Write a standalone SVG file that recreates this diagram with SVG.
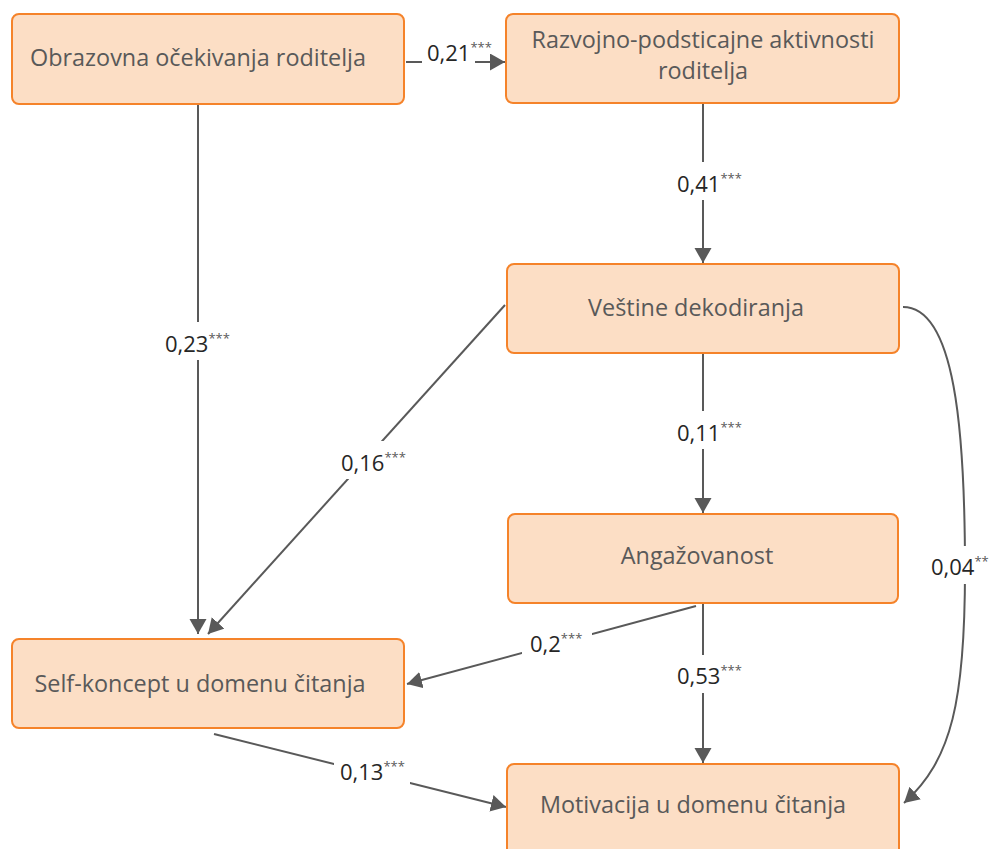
<svg xmlns="http://www.w3.org/2000/svg" width="996" height="849" viewBox="0 0 996 849">
<defs>
<marker id="ah" markerUnits="userSpaceOnUse" markerWidth="16" markerHeight="18" refX="15" refY="8.5" orient="auto">
<path d="M0,0 L15,8.5 L0,17 z" fill="#595959"/>
</marker>
<style>
.box{fill:#FCDEC5;stroke:#F5832A;stroke-width:2}
.nt{font-family:"Open Sans","Liberation Sans",sans-serif;font-size:23.4px;fill:#595959;text-anchor:middle}
.lb{font-family:"Open Sans","Liberation Sans",sans-serif;font-size:22px;fill:#262626}
.sup{font-size:13px;fill:#595959}
.ln{stroke:#595959;stroke-width:2;fill:none}
.bg{fill:#ffffff}
</style>
</defs>
<rect width="996" height="849" fill="#ffffff"/>
<g id="connectors">
<line class="ln" x1="406" y1="62" x2="505" y2="62" marker-end="url(#ah)"/>
<line class="ln" x1="198" y1="104" x2="198" y2="634" marker-end="url(#ah)"/>
<line class="ln" x1="703" y1="104" x2="703" y2="263" marker-end="url(#ah)"/>
<line class="ln" x1="505" y1="305" x2="208" y2="634" marker-end="url(#ah)"/>
<line class="ln" x1="703" y1="353" x2="703" y2="513" marker-end="url(#ah)"/>
<path class="ln" d="M903,307 C955,307 965,430 965,570 C965,700 952,760 904,803" marker-end="url(#ah)"/>
<line class="ln" x1="696" y1="606" x2="407" y2="684" marker-end="url(#ah)"/>
<line class="ln" x1="703" y1="603" x2="703" y2="763" marker-end="url(#ah)"/>
<line class="ln" x1="214" y1="734" x2="506" y2="807" marker-end="url(#ah)"/>
<rect class="bg" x="422" y="40" width="53" height="30"/>
<rect class="bg" x="160" y="322" width="76" height="38"/>
<rect class="bg" x="670" y="162" width="76" height="38"/>
<rect class="bg" x="335" y="441" width="76" height="38"/>
<rect class="bg" x="670" y="411" width="76" height="38"/>
<rect class="bg" x="926" y="546" width="68" height="38"/>
<rect class="bg" x="522" y="623" width="70" height="38"/>
<rect class="bg" x="670" y="655" width="76" height="38"/>
<rect class="bg" x="334" y="751" width="76" height="38"/>
<text class="lb" x="427" y="61">0,21<tspan class="sup" dy="-9">***</tspan></text>
<text class="lb" x="165" y="352">0,23<tspan class="sup" dy="-9">***</tspan></text>
<text class="lb" x="677" y="192">0,41<tspan class="sup" dy="-9">***</tspan></text>
<text class="lb" x="341" y="471">0,16<tspan class="sup" dy="-9">***</tspan></text>
<text class="lb" x="677" y="441">0,11<tspan class="sup" dy="-9">***</tspan></text>
<text class="lb" x="931" y="575">0,04<tspan class="sup" dy="-9">**</tspan></text>
<text class="lb" x="530" y="652">0,2<tspan class="sup" dy="-9">***</tspan></text>
<text class="lb" x="677" y="684">0,53<tspan class="sup" dy="-9">***</tspan></text>
<text class="lb" x="340" y="780">0,13<tspan class="sup" dy="-9">***</tspan></text>
</g>
<g id="n1"><rect class="box" x="12" y="14" width="392" height="90" rx="7"/><text class="nt" x="198" y="66">Obrazovna očekivanja roditelja</text></g>
<g id="n2"><rect class="box" x="506" y="14" width="393" height="89" rx="7"/><text class="nt" x="703" y="48">Razvojno-podsticajne aktivnosti</text><text class="nt" x="703" y="79">roditelja</text></g>
<g id="n3"><rect class="box" x="507" y="264" width="392" height="89" rx="7"/><text class="nt" x="696" y="316">Veštine dekodiranja</text></g>
<g id="n4"><rect class="box" x="508" y="514" width="390" height="89" rx="7"/><text class="nt" x="697" y="564">Angažovanost</text></g>
<g id="n5"><rect class="box" x="12" y="639" width="392" height="89" rx="7"/><text class="nt" x="200" y="692">Self-koncept u domenu čitanja</text></g>
<g id="n6"><rect class="box" x="507" y="764" width="392" height="95" rx="7"/><text class="nt" x="693" y="813">Motivacija u domenu čitanja</text></g>
</svg>
